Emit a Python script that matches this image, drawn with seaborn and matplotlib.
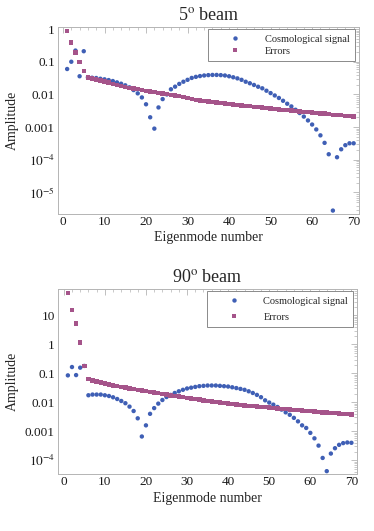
import matplotlib
matplotlib.use("Agg")
import matplotlib.pyplot as plt
import matplotlib.ticker as mticker
import numpy as np
import pandas as pd
import seaborn as sns

# eigenmode numbers 1..70
modes = list(range(1, 71))

# 5 degree beam
signal_5 = [0.06, 0.10, 0.22, 0.036, 0.21, 0.0333, 0.0324, 0.0318, 0.0302, 0.029,
            0.0275, 0.0257, 0.0234, 0.0213, 0.019, 0.0165, 0.0136, 0.0108, 0.0081, 0.005,
            0.002, 0.0009, 0.004, 0.0072, 0.010, 0.0144, 0.0173, 0.021, 0.0245, 0.028,
            0.032, 0.0345, 0.0365, 0.038, 0.039, 0.0395, 0.0395, 0.039, 0.038, 0.036,
            0.0335, 0.031, 0.028, 0.0245, 0.022, 0.0195, 0.0172, 0.0154, 0.013, 0.011,
            0.0093, 0.0078, 0.0064, 0.0052, 0.0043, 0.0034, 0.0027, 0.0021, 0.0016, 0.0012,
            0.00085, 0.00056, 0.00033, 0.000148, 2.8e-6, 0.00012, 0.00021, 0.00028, 0.00032, 0.00032]
errors_5 = [0.87, 0.39, 0.19, 0.098, 0.052, 0.033, 0.031, 0.029, 0.027, 0.025,
            0.023, 0.021, 0.0195, 0.018, 0.017, 0.016, 0.0152, 0.0144, 0.0137, 0.013,
            0.0124, 0.0118, 0.0113, 0.0108, 0.0103, 0.0098, 0.0093, 0.0088, 0.0083, 0.0077,
            0.0072, 0.0069, 0.0066, 0.0063, 0.0061, 0.0059, 0.0057, 0.0055, 0.0053, 0.0051,
            0.0049, 0.0048, 0.0046, 0.0045, 0.0044, 0.0042, 0.0041, 0.0040, 0.0039, 0.0037,
            0.0036, 0.0035, 0.0034, 0.0033, 0.0032, 0.0031, 0.0030, 0.0029, 0.0029, 0.0028,
            0.0027, 0.0026, 0.0026, 0.0025, 0.0024, 0.0024, 0.0023, 0.0022, 0.0022, 0.0021]

# 90 degree beam
signal_90 = [0.085, 0.165, 0.087, 0.157, 0.18, 0.0175, 0.0185, 0.0185, 0.0185, 0.0175,
             0.0165, 0.0149, 0.013, 0.0111, 0.0093, 0.0071, 0.005, 0.0028, 0.00066, 0.0016,
             0.004, 0.0063, 0.009, 0.012, 0.0152, 0.018, 0.021, 0.024, 0.027, 0.030,
             0.032, 0.034, 0.036, 0.037, 0.038, 0.038, 0.038, 0.037, 0.036, 0.035,
             0.033, 0.031, 0.029, 0.027, 0.024, 0.021, 0.018, 0.015, 0.0117, 0.0098,
             0.0083, 0.0069, 0.0056, 0.0045, 0.0037, 0.0029, 0.0022, 0.0016, 0.0013, 0.00088,
             0.00057, 0.00032, 0.00012, 4.2e-5, 0.00017, 0.00026, 0.00034, 0.00039, 0.00041, 0.00040]
errors_90 = [59, 15, 5.2, 1.17, 0.18, 0.063, 0.057, 0.052, 0.048, 0.044,
             0.041, 0.038, 0.036, 0.034, 0.032, 0.030, 0.0285, 0.027, 0.0255, 0.024,
             0.023, 0.0215, 0.0205, 0.0194, 0.0184, 0.0174, 0.0165, 0.0157, 0.0149, 0.0142,
             0.0135, 0.0129, 0.0123, 0.0117, 0.0112, 0.0107, 0.0102, 0.0098, 0.0094, 0.0090,
             0.0087, 0.0084, 0.0081, 0.0078, 0.0076, 0.0074, 0.0072, 0.0070, 0.0068, 0.0066,
             0.0064, 0.0062, 0.0060, 0.0058, 0.0056, 0.0055, 0.0053, 0.0052, 0.0050, 0.0049,
             0.0048, 0.0046, 0.0045, 0.0044, 0.0043, 0.0042, 0.0041, 0.0040, 0.0039, 0.0038]

ytick_vals_5 = [1e-5, 1e-4, 1e-3, 1e-2, 1e-1, 1]
ytick_labels_5 = ["$10^{-5}$", "$10^{-4}$", "0.001", "0.01", "0.1", "1"]
ytick_vals_90 = [1e-4, 1e-3, 1e-2, 1e-1, 1, 10]
ytick_labels_90 = ["$10^{-4}$", "0.001", "0.01", "0.1", "1", "10"]
xtick_vals = [0, 10, 20, 30, 40, 50, 60, 70]

for arr in (signal_5, errors_5, signal_90, errors_90):
    assert len(arr) == 70

sns.set_style("white")
plt.rcParams["font.family"] = ["Liberation Serif", "DejaVu Serif"]
plt.rcParams["mathtext.fontset"] = "stix"

blue = "#3f5fb5"
pink = "#a5548a"
frame = "#b4b4b4"


def make_df(sig, err):
    a = pd.DataFrame({"mode": modes, "amp": sig, "series": "Cosmological signal"})
    b = pd.DataFrame({"mode": modes, "amp": err, "series": "Errors"})
    return pd.concat([a, b], ignore_index=True)


fig = plt.figure(figsize=(3.74, 5.31), dpi=100)
ax1 = fig.add_axes([0.154, 0.597, 0.806, 0.352])
ax2 = fig.add_axes([0.154, 0.107, 0.801, 0.348])

panels = [
    (ax1, make_df(signal_5, errors_5), "5$^{\\mathrm{o}}$ beam", (2.2e-6, 1.15),
     (-1.3, 71.3), ytick_vals_5, ytick_labels_5, 0.3, -0.091),
    (ax2, make_df(signal_90, errors_90), "90$^{\\mathrm{o}}$ beam", (3.3e-5, 79),
     (-1.5, 71.4), ytick_vals_90, ytick_labels_90, 0.65, -0.097),
]

for ax, df, title, ylim, xlim, yv, yl, lspace, xlab_y in panels:
    sns.scatterplot(data=df, x="mode", y="amp", hue="series", style="series",
                    palette={"Cosmological signal": blue, "Errors": pink},
                    markers={"Cosmological signal": "o", "Errors": "s"},
                    s=10, edgecolor="none", linewidth=0, ax=ax)
    ax.set_yscale("log")
    ax.set_ylim(*ylim)
    ax.set_xlim(*xlim)
    ax.set_yticks(yv)
    ax.set_yticklabels(yl)
    ax.yaxis.set_minor_locator(mticker.LogLocator(base=10, subs=np.arange(2, 10), numticks=30))
    ax.yaxis.set_minor_formatter(mticker.NullFormatter())
    ax.set_xticks(xtick_vals)
    ax.xaxis.set_minor_locator(mticker.MultipleLocator(2))
    ax.tick_params(which="both", direction="in", top=True, right=True,
                   color=frame, labelcolor="#1a1a1a", labelsize=9.5)
    ax.tick_params(which="major", length=4, width=0.6)
    ax.tick_params(which="minor", length=2, width=0.5)
    ax.tick_params(axis="x", pad=1.5)
    ax.tick_params(axis="y", pad=2)
    for sp in ax.spines.values():
        sp.set_color(frame)
        sp.set_linewidth(0.7)
    ax.set_title(title, fontsize=13, pad=5)
    ax.set_xlabel("Eigenmode number", fontsize=10)
    ax.set_ylabel("Amplitude", fontsize=10)
    ax.xaxis.set_label_coords(0.5, xlab_y)
    ax.yaxis.set_label_coords(-0.13, 0.5)

    handles, labels = ax.get_legend_handles_labels()
    leg = ax.legend(handles, labels, loc="upper right", bbox_to_anchor=(0.987, 0.989),
                    borderaxespad=0, fontsize=7.5, handlelength=4.2, handletextpad=0.75,
                    borderpad=0.5, labelspacing=lspace, fancybox=False, framealpha=1,
                    edgecolor="#8a8a8a", markerscale=1.0)
    leg.get_frame().set_linewidth(0.7)

fig.savefig("out.png", dpi=100)
